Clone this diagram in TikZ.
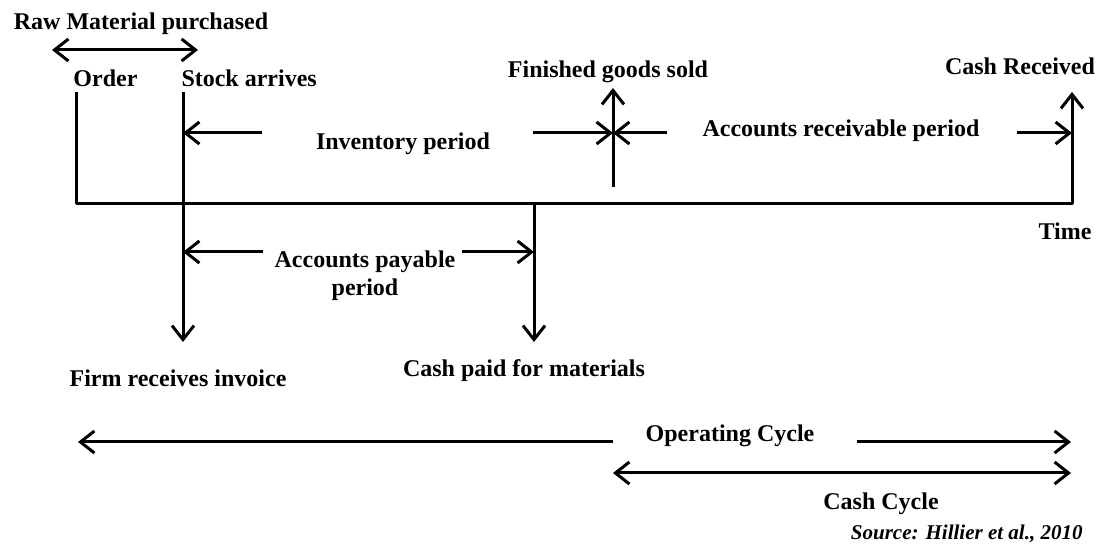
\documentclass[tikz,border=0pt]{standalone}
\usepackage{fontspec}
\setmainfont{Liberation Serif}
\usetikzlibrary{arrows.meta}
\tikzset{
    lbl/.style={font=\bfseries\fontsize{12}{14}\selectfont,inner sep=0pt},
    tipto/.style={-{Straight Barb[length=7pt,width=11pt]}},
    tipboth/.style={{Straight Barb[length=7pt,width=11pt]}-{Straight Barb[length=7pt,width=11pt]}}
}

\begin{document}
\begin{tikzpicture}[
            x=0.5pt,y=-0.5pt,line width=1.5pt
        ]
            \useasboundingbox (0,0) rectangle (1100,550);

            \node[lbl,anchor=base] (rawmat) at (141,30) {Raw Material purchased};
            \node[lbl,anchor=base west] (order) at (72,87) {Order};
            \node[lbl,anchor=base west] (stock) at (180,87) {Stock arrives};
            \node[lbl,anchor=base] (sold) at (608,78) {Finished goods sold};
            \node[lbl,anchor=base] (cashrec) at (1020,75) {Cash Received};
            \node[lbl,anchor=base] (invper) at (403,150) {Inventory period};
            \node[lbl,anchor=base] (arper) at (841,137) {Accounts receivable period};
            \node[lbl,anchor=base] (time) at (1065,240) {Time};
            \node[lbl,anchor=north,align=center] (apper) at (365,249) {Accounts payable\\period};
            \node[lbl,anchor=base] (invoice) at (178,387) {Firm receives invoice};
            \node[lbl,anchor=base] (cashpaid) at (524,377) {Cash paid for materials};
            \node[lbl,anchor=base] (opcyc) at (730,442) {Operating Cycle};
            \node[lbl,anchor=base] (cashcyc) at (881,510) {Cash Cycle};
            \node[font=\bfseries\itshape\fontsize{10.5}{12}\selectfont,inner sep=0pt,anchor=base east] (source) at (1084,540) {Source: Hillier et al., 2010};

            \coordinate (tOrder) at (76,92);
            \coordinate (tStock) at (183,92);
            \coordinate (tSold) at (613,88);
            \coordinate (tCash) at (1072,92);
            \coordinate (lineL) at (76,204);
            \coordinate (lineR) at (1072,204);
            \coordinate (paidTop) at (534,204);
            \coordinate (soldBot) at (613,187);

            \draw [tipto,line join=round] (tOrder) -- (lineL) -- (lineR) -- (tCash);
            \draw [tipto] (tStock) -- (183,342);
            \draw [tipto] (paidTop) -- (534,342);
            \draw [tipto] (soldBot) -- (tSold);

            \draw [tipboth] (52,50) -- (198,50);

            \draw [tipto] (262,133) -- (tStock |- 0,133);
            \draw [tipto] (533,133) -- (tSold |- 0,133);
            \draw [tipto] (667,133) -- (tSold |- 0,133);
            \draw [tipto] (1017,133) -- (tCash |- 0,133);

            \draw [tipto] (263,252) -- (tStock |- 0,252);
            \draw [tipto] (462,252) -- (paidTop |- 0,252);

            \draw [tipto] (613,442) -- (78,442);
            \draw [tipto] (857,442) -- (1071,442);
            \draw [tipboth] (613,473) -- (1071,473);
        \end{tikzpicture}
\end{document}
